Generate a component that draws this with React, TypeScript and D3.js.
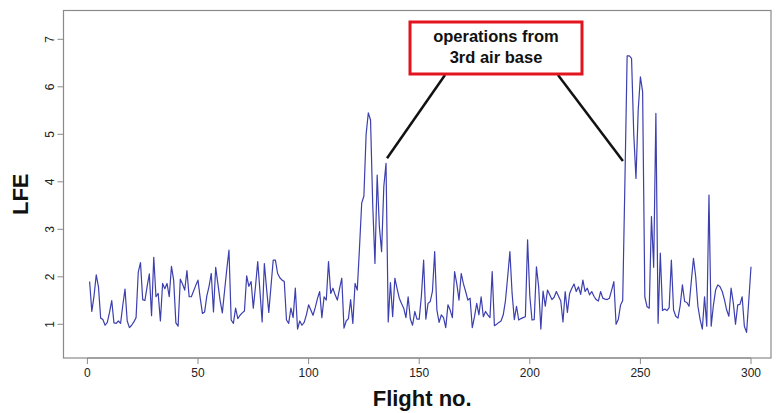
import React from "react";
import * as d3 from "d3";

// LFE per flight, flights 1..300
const flights: number[] = d3.range(1, 301);
const lfe: number[] = [
  1.90, 1.27, 1.60, 2.04, 1.79, 1.13, 1.10, 0.98, 1.04, 1.25,
  1.50, 1.03, 1.02, 1.07, 1.02, 1.40, 1.74, 1.07, 0.93, 0.98,
  1.05, 1.14, 2.10, 2.30, 1.52, 1.50, 1.80, 2.06, 1.18, 2.41,
  1.58, 1.65, 1.07, 1.86, 1.75, 1.86, 1.58, 2.22, 1.93, 1.03,
  0.96, 1.95, 1.85, 1.72, 2.13, 1.58, 1.58, 1.70, 1.82, 1.93,
  1.55, 1.23, 1.26, 1.60, 1.80, 2.07, 1.26, 2.20, 1.85, 1.50,
  1.24, 1.70, 2.15, 2.56, 1.09, 1.02, 1.34, 1.12, 1.19, 1.24,
  1.28, 2.02, 1.80, 1.90, 1.34, 1.80, 2.32, 1.70, 1.05, 2.28,
  1.75, 1.25, 1.80, 2.35, 2.35, 2.07, 1.98, 1.93, 1.90, 1.09,
  1.02, 1.34, 1.14, 1.76, 0.90, 1.07, 0.98, 1.04, 1.20, 1.41,
  1.30, 1.19, 1.35, 1.54, 1.69, 1.14, 1.58, 1.51, 2.32, 1.65,
  1.76, 1.62, 1.51, 1.75, 1.97, 0.92, 1.07, 1.12, 1.52, 1.02,
  1.86, 1.72, 2.60, 3.55, 3.70, 5.00, 5.45, 5.30, 3.50, 2.28,
  4.14, 3.05, 2.53, 3.90, 4.39, 1.05, 1.88, 1.16, 1.97, 1.75,
  1.55, 1.44, 1.34, 1.14, 1.58, 1.11, 0.98, 1.27, 1.11, 1.11,
  1.60, 2.35, 1.11, 1.44, 1.48, 1.70, 2.53, 1.30, 1.04, 1.20,
  1.14, 0.93, 1.41, 1.30, 1.14, 2.11, 1.85, 1.51, 2.07, 1.85,
  1.69, 1.51, 1.55, 0.93, 1.16, 1.44, 1.20, 1.58, 1.16, 1.27,
  1.20, 1.14, 2.11, 0.97, 1.00, 1.04, 1.07, 1.20, 1.50, 2.00,
  2.53, 1.65, 1.10, 1.38, 1.09, 1.12, 1.14, 1.16, 2.78, 1.60,
  1.09, 1.10, 2.21, 1.79, 0.90, 1.70, 1.38, 1.72, 1.62, 1.52,
  1.57, 1.69, 1.59, 1.49, 1.05, 1.69, 1.25, 1.65, 1.76, 1.85,
  1.69, 1.79, 1.63, 1.93, 1.69, 1.76, 1.62, 1.69, 1.59, 1.52,
  1.49, 1.69, 1.55, 1.53, 1.52, 1.55, 1.72, 1.90, 1.00, 1.10,
  1.40, 1.50, 4.00, 6.65, 6.65, 6.60, 5.00, 4.07, 5.50, 6.21,
  5.90, 1.58, 1.37, 1.34, 3.27, 2.20, 5.44, 1.02, 2.50, 1.29,
  1.32, 1.29, 1.35, 2.35, 1.30, 1.17, 1.13, 1.40, 1.83, 1.48,
  1.46, 1.38, 1.90, 2.39, 2.00, 1.38, 1.10, 0.90, 1.58, 0.96,
  3.72, 0.96, 1.40, 1.72, 1.83, 1.79, 1.69, 1.52, 1.30, 1.17,
  1.76, 1.45, 1.00, 1.41, 1.42, 1.58, 0.96, 0.83, 1.50, 2.21,
];

const xTicks: number[] = [0, 50, 100, 150, 200, 250, 300];
const yTicks: number[] = [1, 2, 3, 4, 5, 6, 7];
const noteLines: string[] = ["operations from", "3rd air base"];
// flights the annotation points at
const noteTargets: number[] = [135, 243];

const W = 776;
const H = 413;
const box = { left: 63.5, top: 10.5, right: 771, bottom: 358 };
const font = "'Liberation Sans', Arial, Helvetica, sans-serif";

export default function App() {
  const x = d3.scaleLinear().domain([0, 300]).range([87.4, 751]);
  const y = d3.scaleLinear().domain([1, 7]).range([324.3, 39.3]);

  const line = d3
    .line<number>()
    .x((_, i) => x(flights[i]))
    .y((d) => y(d));

  const axisColor = "#8a8a8a";
  const noteBox = { x: 410, y: 22, w: 172, h: 52 };
  const noteCx = noteBox.x + noteBox.w / 2;

  return (
    <svg
      width={W}
      height={H}
      viewBox={`0 0 ${W} ${H}`}
      style={{ position: "absolute", left: 0, top: 0, background: "#fff" }}
    >
      <rect x={0} y={0} width={W} height={H} fill="#fff" />
      <rect
        x={box.left}
        y={box.top}
        width={box.right - box.left}
        height={box.bottom - box.top}
        fill="none"
        stroke={axisColor}
        strokeWidth={1.2}
      />

      {/* x axis */}
      <line x1={x(0)} x2={x(300)} y1={box.bottom} y2={box.bottom} stroke={axisColor} strokeWidth={1.2} />
      {xTicks.map((t) => (
        <g key={`xt${t}`}>
          <line x1={x(t)} x2={x(t)} y1={box.bottom} y2={box.bottom + 6} stroke={axisColor} strokeWidth={1} />
          <text
            x={x(t)}
            y={377}
            textAnchor="middle"
            fontFamily={font}
            fontSize={12}
            fill="#222"
          >
            {t}
          </text>
        </g>
      ))}

      {/* y axis */}
      {yTicks.map((t) => (
        <g key={`yt${t}`}>
          <line x1={box.left - 6} x2={box.left} y1={y(t)} y2={y(t)} stroke={axisColor} strokeWidth={1} />
          <text
            transform={`translate(${box.left - 10},${y(t)}) rotate(-90)`}
            textAnchor="middle"
            fontFamily={font}
            fontSize={12}
            fill="#222"
          >
            {t}
          </text>
        </g>
      ))}

      <text
        x={(x(0) + x(300)) / 2 + 3}
        y={406}
        textAnchor="middle"
        fontFamily={font}
        fontWeight="bold"
        fontSize={22}
        fill="#111"
      >
        Flight no.
      </text>
      <text
        transform={`translate(28,${(box.top + box.bottom) / 2 + 10}) rotate(-90)`}
        textAnchor="middle"
        fontFamily={font}
        fontWeight="bold"
        fontSize={22}
        fill="#111"
      >
        LFE
      </text>

      <path
        d={line(lfe) ?? ""}
        fill="none"
        stroke="#3c3fae"
        strokeWidth={1.2}
        strokeLinejoin="round"
      />

      {/* annotation */}
      <line
        x1={445}
        y1={noteBox.y + noteBox.h + 1}
        x2={x(noteTargets[0]) + 1}
        y2={y(lfe[noteTargets[0] - 1]) - 5}
        stroke="#111"
        strokeWidth={2.5}
      />
      <line
        x1={558}
        y1={noteBox.y + noteBox.h + 1}
        x2={x(noteTargets[1]) - 2}
        y2={161}
        stroke="#111"
        strokeWidth={2.5}
      />
      <rect
        x={noteBox.x}
        y={noteBox.y}
        width={noteBox.w}
        height={noteBox.h}
        fill="#fff"
        stroke="#e3141e"
        strokeWidth={3}
      />
      {noteLines.map((s, i) => (
        <text
          key={s}
          x={noteCx}
          y={42 + i * 21}
          textAnchor="middle"
          fontFamily={font}
          fontWeight="bold"
          fontSize={16.5}
          fill="#111"
        >
          {s}
        </text>
      ))}
    </svg>
  );
}
